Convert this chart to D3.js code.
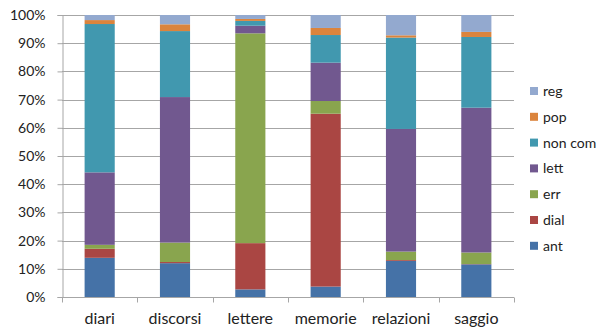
<!DOCTYPE html>
<html>
<head>
<meta charset="utf-8">
<script src="https://cdn.jsdelivr.net/npm/d3@7"></script>
<style>
  html, body { margin: 0; padding: 0; background: #fff; }
  svg { display: block; font-family: Lato, "Open Sans", sans-serif; }
</style>
</head>
<body>
<svg id="chart" width="606" height="331"></svg>
<script>
// Categories (text genres) and the share of each feature per genre, in percent
const categories = ["diari", "discorsi", "lettere", "memorie", "relazioni", "saggio"];
const seriesNames = ["ant", "dial", "err", "lett", "non com", "pop", "reg"];
const ant    = [13.9, 12.0,  2.7,  3.7, 12.8, 11.6];
const dial   = [ 3.2,  0.4, 16.4, 61.3,  0.3,  0.1];
const err    = [ 1.4,  6.9, 74.4,  4.5,  3.0,  4.1];
const lett   = [25.7, 51.6,  2.7, 13.6, 43.5, 51.4];
const nonCom = [52.6, 23.4,  1.7,  9.8, 32.4, 25.1];
const pop    = [ 1.4,  2.4,  0.7,  2.5,  0.8,  1.8];
const reg    = [ 1.8,  3.3,  1.4,  4.6,  7.2,  6.0];
const yTicks = [0, 0.1, 0.2, 0.3, 0.4, 0.5, 0.6, 0.7, 0.8, 0.9, 1];
const colors = ["#4572A7", "#AA4643", "#89A54E", "#71588F", "#4198AF", "#DB843D", "#93A9CF"];

const seriesValues = [ant, dial, err, lett, nonCom, pop, reg];
const rows = categories.map((c, i) => {
  const row = { category: c };
  seriesNames.forEach((s, j) => { row[s] = seriesValues[j][i]; });
  return row;
});

const stacked = d3.stack()
  .keys(seriesNames)
  .offset(d3.stackOffsetExpand)(rows);

const svg = d3.select("#chart");
const margin = { left: 62, right: 92, top: 15, bottom: 34 };
const W = 606, H = 331;

const x = d3.scaleBand()
  .domain(categories)
  .range([margin.left, W - margin.right])
  .paddingInner(0.6)
  .paddingOuter(0.3);

const y = d3.scaleLinear()
  .domain([0, 1])
  .range([H - margin.bottom, margin.top]);

// horizontal gridlines
svg.append("g")
  .selectAll("line")
  .data(yTicks.slice(1))
  .join("line")
  .attr("x1", margin.left)
  .attr("x2", W - margin.right)
  .attr("y1", d => Math.round(y(d)) + 0.5)
  .attr("y2", d => Math.round(y(d)) + 0.5)
  .attr("stroke", "#A6A6A6")
  .attr("stroke-width", 1);

// stacked bars
svg.append("g")
  .selectAll("g")
  .data(stacked)
  .join("g")
  .attr("fill", (d, i) => colors[i])
  .selectAll("rect")
  .data(d => d.map(v => ({ v, cat: v.data.category })))
  .join("rect")
  .attr("x", d => x(d.cat))
  .attr("width", x.bandwidth())
  .attr("y", d => y(d.v[1]))
  .attr("height", d => y(d.v[0]) - y(d.v[1]));

// y axis
const yAxis = svg.append("g")
  .attr("transform", `translate(${margin.left + 0.5},0)`)
  .call(d3.axisLeft(y).tickValues(yTicks).tickFormat(d3.format(".0%")).tickSize(5).tickPadding(12));
yAxis.select(".domain").attr("stroke", "#A6A6A6");
yAxis.selectAll(".tick line").attr("stroke", "#A6A6A6");
yAxis.selectAll("text").attr("font-size", 14).attr("fill", "#222").attr("font-family", "Lato, sans-serif");

// x axis with ticks on category boundaries
const step = x.step();
const xBase = Math.round(y(0)) + 0.5;
const xg = svg.append("g");
xg.append("line")
  .attr("x1", margin.left).attr("x2", W - margin.right)
  .attr("y1", xBase).attr("y2", xBase)
  .attr("stroke", "#A6A6A6");
xg.selectAll("line.tk")
  .data(d3.range(categories.length + 1))
  .join("line")
  .attr("class", "tk")
  .attr("x1", i => Math.round(margin.left + i * (W - margin.right - margin.left) / categories.length) + 0.5)
  .attr("x2", i => Math.round(margin.left + i * (W - margin.right - margin.left) / categories.length) + 0.5)
  .attr("y1", xBase).attr("y2", xBase + 5)
  .attr("stroke", "#A6A6A6");
xg.selectAll("text")
  .data(categories)
  .join("text")
  .attr("x", d => x(d) + x.bandwidth() / 2)
  .attr("y", 324)
  .attr("text-anchor", "middle")
  .attr("font-size", 16)
  .attr("fill", "#222")
  .text(d => d);

// legend, top entry is the last series
const legend = svg.append("g");
const legendItems = seriesNames.map((s, i) => ({ s, c: colors[i] })).reverse();
const lg = legend.selectAll("g")
  .data(legendItems)
  .join("g")
  .attr("transform", (d, i) => `translate(530, ${91 + i * 25.8})`);
lg.append("rect")
  .attr("x", 0).attr("y", -4)
  .attr("width", 8).attr("height", 8)
  .attr("fill", d => d.c);
lg.append("text")
  .attr("x", 13).attr("y", 5)
  .attr("font-size", 14)
  .attr("fill", "#222")
  .text(d => d.s);
</script>
</body>
</html>
